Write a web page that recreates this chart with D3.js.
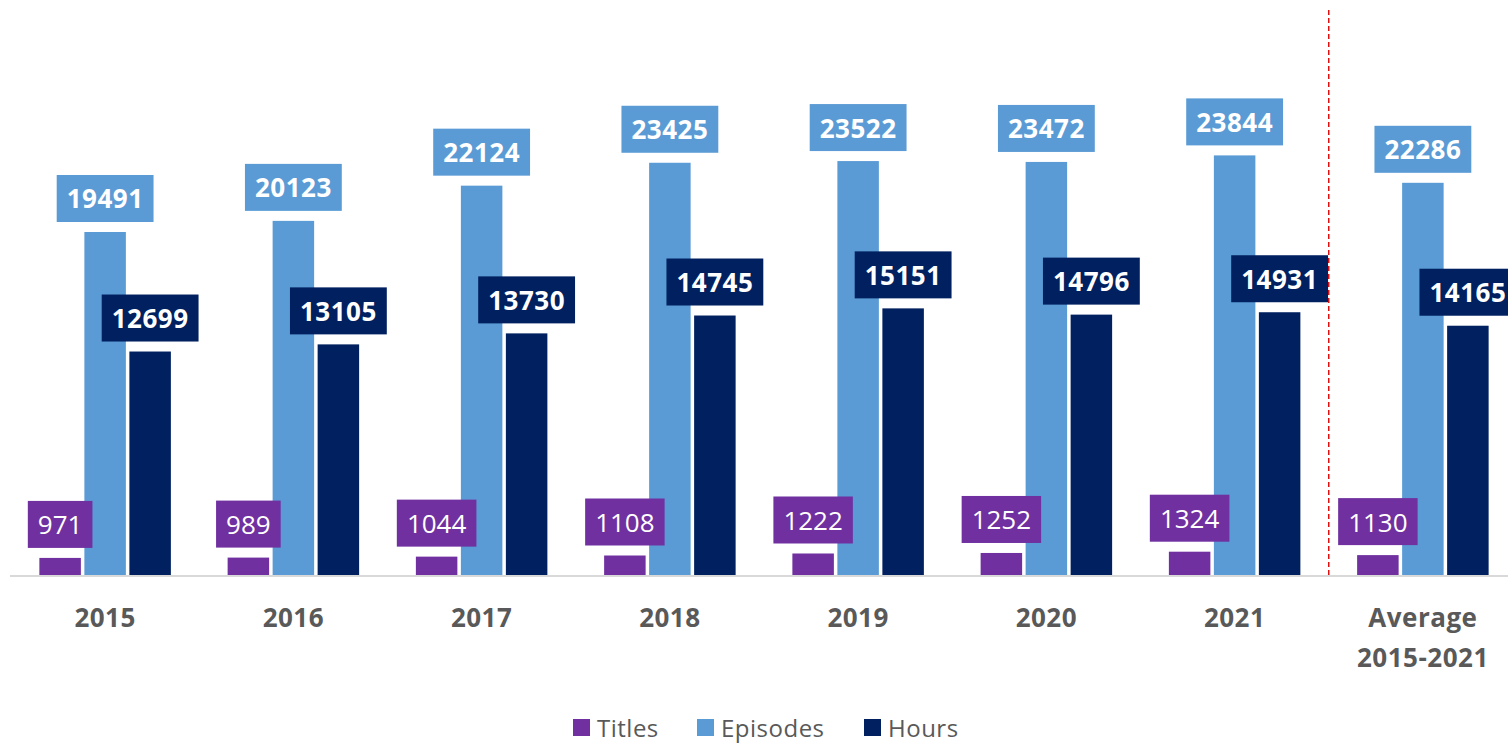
<!DOCTYPE html>
<html>
<head>
<meta charset="utf-8">
<script src="https://cdn.jsdelivr.net/npm/d3@7"></script>
<style>
  body { margin: 0; background: #fff; }
  svg { display: block; font-family: "Open Sans", sans-serif; }
</style>
</head>
<body>
<div id="chart"></div>
<script>
var categories = ["2015", "2016", "2017", "2018", "2019", "2020", "2021", "Average 2015-2021"];
var seriesNames = ["Titles", "Episodes", "Hours"];
var titles   = [971, 989, 1044, 1108, 1222, 1252, 1324, 1130];
var episodes = [19491, 20123, 22124, 23425, 23522, 23472, 23844, 22286];
var hours    = [12699, 13105, 13730, 14745, 15151, 14796, 14931, 14165];

function init(){
	var w = 1508;
	var h = 744;
	var baseY = 575;
	var colors = {Titles: "#7030A0", Episodes: "#5B9BD5", Hours: "#002060"};
	var values = {Titles: titles, Episodes: episodes, Hours: hours};

	var svg = d3.select("#chart")
				.append("svg")
				.attr("width", w)
				.attr("height", h);

	var xScale = d3.scaleBand()
					.domain(categories)
					.range([11, 1517]);

	var subScale = d3.scaleBand()
					.domain(seriesNames)
					.range([-65.75, 65.75])
					.paddingInner(3.5 / 45);

	var yScale = d3.scaleLinear()
					.domain([0, 32674])
					.range([baseY, 0]);

	function cx(i){
		return xScale(categories[i]) + xScale.bandwidth() / 2;
	}

	// baseline
	svg.append("line")
		.attr("x1", 10).attr("x2", w)
		.attr("y1", baseY + 1).attr("y2", baseY + 1)
		.attr("stroke", "#d9d9d9")
		.attr("stroke-width", 2);

	// separator before the average
	svg.append("line")
		.attr("x1", xScale("Average 2015-2021"))
		.attr("x2", xScale("Average 2015-2021"))
		.attr("y1", 10).attr("y2", baseY + 1)
		.attr("stroke", "#e01010")
		.attr("stroke-width", 1.5)
		.attr("stroke-dasharray", "5,3");

	var barLayer = svg.append("g");
	var labelLayer = svg.append("g");

	seriesNames.forEach(function(s){
		var data = values[s];
		barLayer.append("g")
			.selectAll("rect")
			.data(data)
			.enter()
			.append("rect")
			.attr("x", function(d, i){ return cx(i) + subScale(s); })
			.attr("y", function(d){ return yScale(d); })
			.attr("width", subScale.bandwidth())
			.attr("height", function(d){ return baseY - yScale(d); })
			.attr("fill", colors[s]);

		// value labels in boxes, above all bars
		data.forEach(function(d, i){
			var g = labelLayer.append("g");
			var x = cx(i) + subScale(s) + subScale.bandwidth() / 2;
			var boxBottom = yScale(d) - 10;
			var boxH = 47;
			var t = g.append("text")
				.attr("x", x)
				.attr("y", boxBottom - boxH / 2)
				.attr("text-anchor", "middle")
				.attr("dominant-baseline", "central")
				.attr("fill", "#fff")
				.attr("font-size", 26)
				.attr("font-weight", s == "Titles" ? "normal" : "bold")
				.attr("letter-spacing", s == "Titles" ? 0 : 0.5)
				.text(d);
			var bw = t.node().getBBox().width + 20;
			g.insert("rect", "text")
				.attr("x", x - bw / 2)
				.attr("y", boxBottom - boxH)
				.attr("width", bw)
				.attr("height", boxH)
				.attr("fill", colors[s]);
		});
	});

	// category labels
	categories.forEach(function(c, i){
		var lines = c == "Average 2015-2021" ? ["Average", "2015-2021"] : [c];
		lines.forEach(function(l, j){
			svg.append("text")
				.attr("x", cx(i))
				.attr("y", 617 + j * 40)
				.attr("text-anchor", "middle")
				.attr("dominant-baseline", "central")
				.attr("fill", "#595959")
				.attr("font-size", 26)
				.attr("font-weight", "bold")
				.attr("letter-spacing", 0.5)
				.text(l);
		});
	});

	// legend
	var legendX = [573, 697, 864];
	seriesNames.forEach(function(s, i){
		svg.append("rect")
			.attr("x", legendX[i])
			.attr("y", 719)
			.attr("width", 17)
			.attr("height", 17)
			.attr("fill", colors[s]);
		svg.append("text")
			.attr("x", legendX[i] + 24)
			.attr("y", 727)
			.attr("dominant-baseline", "central")
			.attr("fill", "#595959")
			.attr("font-size", 24)
			.attr("letter-spacing", 0.5)
			.text(s);
	});
}

window.onload = init;
</script>
</body>
</html>
